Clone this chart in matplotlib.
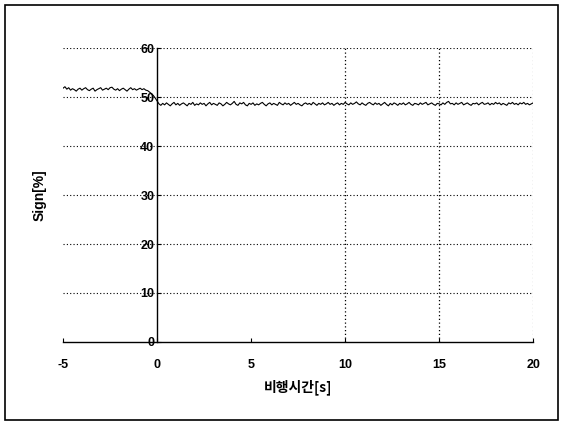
import matplotlib
matplotlib.use("Agg")
import matplotlib.pyplot as plt
import numpy as np
from matplotlib.patches import Rectangle

plt.rcParams['font.family'] = ['Liberation Sans', 'Noto Sans CJK KR', 'DejaVu Sans']
plt.rcParams['axes.unicode_minus'] = False

# signal before takeoff, t = -5.0 .. -0.1 s (0.1 s step)
sign_pre = [
    51.8, 52.1, 51.6, 51.9, 51.4, 51.7, 51.5, 51.2, 51.6, 51.8,
    51.4, 51.7, 51.9, 51.5, 51.3, 51.6, 51.8, 51.2, 51.5, 51.7,
    51.9, 51.4, 51.6, 51.8, 51.5, 51.9, 52.0, 51.6, 51.4, 51.7,
    51.3, 51.6, 51.8, 51.5, 51.2, 51.6, 51.9, 51.5, 51.7, 51.4,
    51.6, 51.8, 51.5, 51.7, 51.4, 51.3, 51.0, 50.7, 50.3, 49.8,
]
# signal after, t = 0.0 .. 20.0 s
sign_post = [
    49.2, 48.6, 48.3, 48.7, 48.4, 48.8, 48.5, 48.2, 48.6, 48.9,
    48.4, 48.7, 48.3, 48.6, 48.8, 48.5, 48.2, 48.7, 48.5, 48.9,
    48.3, 48.6, 48.4, 48.8, 48.5, 48.7, 48.2, 48.6, 48.9, 48.4,
    48.7, 48.5, 48.3, 48.8, 48.6, 48.2, 48.5, 48.9, 48.6, 48.4,
    48.7, 49.1, 48.5, 48.3, 48.8, 48.6, 48.9, 48.4, 48.2, 48.7,
    48.5, 48.8, 48.3, 48.6, 48.4, 48.7, 48.9, 48.5, 48.2, 48.6,
    48.8, 48.4, 48.7, 48.5, 48.3, 48.9, 48.6, 48.4, 48.8, 48.5,
    48.7, 48.3, 48.6, 48.9, 48.5, 48.7, 48.4, 48.2, 48.6, 48.8,
    48.5, 48.7, 48.4, 48.9, 48.6, 48.3, 48.7, 48.5, 48.8, 48.4,
    48.6, 48.9, 48.5, 48.7, 48.3, 48.6, 48.8, 48.4, 48.7, 48.5,
    48.9, 48.6, 48.4, 48.8, 48.5, 48.7, 49.0, 48.6, 48.4, 48.8,
    48.5, 48.3, 48.7, 48.9, 48.6, 48.4, 48.8, 48.5, 48.7, 48.3,
    48.6, 48.9, 48.5, 48.2, 48.7, 48.4, 48.8, 48.6, 48.3, 48.7,
    48.5, 48.8, 48.4, 48.6, 48.9, 48.5, 48.3, 48.7, 48.6, 48.4,
    48.8, 48.5, 48.7, 48.9, 48.4, 48.6, 48.8, 48.5, 48.3, 48.7,
    48.6, 48.4, 48.8, 48.5, 48.9, 49.1, 48.6, 48.7, 48.4, 48.8,
    48.5, 48.7, 48.9, 48.4, 48.6, 48.8, 48.5, 48.3, 48.7, 48.6,
    48.8, 48.4, 48.7, 48.9, 48.5, 48.6, 48.8, 48.4, 48.7, 48.5,
    48.9, 48.6, 48.8, 48.4, 48.7, 48.5, 48.3, 48.8, 48.6, 48.9,
    48.5, 48.7, 48.4, 48.8, 48.6, 48.9, 48.5, 48.7, 48.4, 48.6,
    48.8,
]
sign = np.array(sign_pre + sign_post)
t = np.round(np.arange(-len(sign_pre), len(sign_post)) * 0.1, 1)

xticks = [-5, 0, 5, 10, 15, 20]
yticks = [0, 10, 20, 30, 40, 50, 60]
vgrid = [10, 15, 20]

fig = plt.figure(figsize=(5.63, 4.23), dpi=100)
ax = fig.add_axes([0.112, 0.1915, 0.835, 0.695])

# frame around the whole picture
fig.patches.append(Rectangle((5/563, 3/423), 553/563, 415/423, transform=fig.transFigure,
                             fill=False, edgecolor='black', linewidth=1.2))

dots = (0, (1, 2))
for y in yticks[1:]:
    ax.plot([-5, 20], [y, y], color='black', lw=0.8, ls=dots, zorder=1)
for x in vgrid:
    ax.plot([x, x], [0, 60], color='black' if x < 20 else '0.6', lw=0.9, ls=dots, zorder=1)

ax.plot(t, sign, color='black', lw=0.8, zorder=3)

ax.set_xlim(-5, 20)
ax.set_ylim(0, 60)
ax.spines['left'].set_position(('data', 0))
ax.spines['bottom'].set_position(('data', 0))
ax.spines['top'].set_visible(False)
ax.spines['right'].set_visible(False)
ax.spines['left'].set_linewidth(1.0)
ax.spines['bottom'].set_linewidth(1.0)
ax.set_xticks(xticks)
ax.set_yticks(yticks)
ax.tick_params(axis='x', direction='in', length=3, pad=12, labelsize=9)
ax.tick_params(axis='y', direction='in', length=3, pad=2, labelsize=9)
for lab in ax.get_xticklabels() + ax.get_yticklabels():
    lab.set_fontweight('bold')

ax.set_xlabel('비행시간[s]', fontsize=10, fontweight='bold',
              family=['Noto Sans CJK KR', 'DejaVu Sans'], labelpad=6)
fig.text(40/563, 1 - 195/423, 'Sign[%]', rotation=90, ha='center', va='center',
         fontsize=10, fontweight='bold')

fig.savefig('out.png', dpi=100)
